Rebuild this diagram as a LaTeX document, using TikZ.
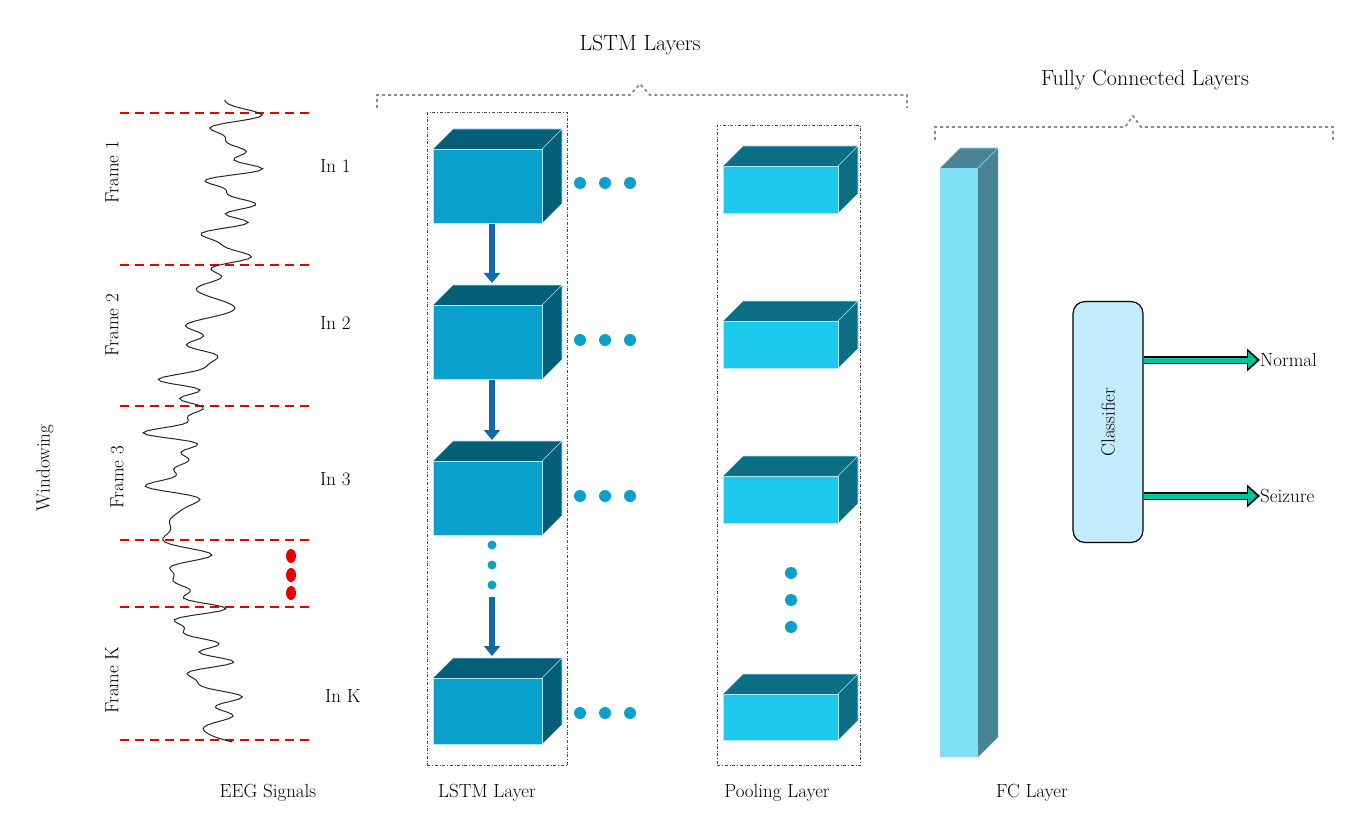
\documentclass[tikz,border=0pt]{standalone}
\usetikzlibrary{arrows.meta}
\definecolor{lblue}{HTML}{1BB5EC}
\definecolor{dblue}{HTML}{0E6BA8}
\definecolor{cubef}{HTML}{0AA0CC}
\definecolor{cubed}{HTML}{035E78}
\definecolor{poolf}{HTML}{1CC8EC}
\definecolor{poold}{HTML}{0B6E85}
\definecolor{fcf}{HTML}{7FDFF5}
\definecolor{fcd}{HTML}{4A8494}
\definecolor{clsf}{HTML}{C2EBFB}
\definecolor{grn}{HTML}{00C49A}
\tikzset{
  x=1pt,y=-1pt,
  lbl/.style={font=\fontsize{19}{22}\selectfont,inner sep=0},
  big/.style={font=\fontsize{22}{26}\selectfont,inner sep=0},
  barr/.style={draw=none,line width=7pt,lblue,-{Triangle[length=12pt,width=18pt]}},
  darr/.style={line width=6pt,dblue,-{Triangle[length=10pt,width=16pt]}},
  garr/.style={line width=8pt,black,-{Triangle[length=13pt,width=22pt]},postaction={draw,line width=5pt,grn,shorten >=3pt,-{Triangle[length=9pt,width=16pt]}}},
  red/.style={red!90!black,dashed,line width=2pt,dash pattern=on 9pt off 6pt},
  dbox/.style={draw=black!70,dash dot,line width=0.9pt},
  brace/.style={draw=black!45,dashed,line width=1.8pt},
  dot/.style={circle,fill=#1,inner sep=0,minimum width=9pt,minimum height=12pt}
}
\newcommand\mycube[8]{% name,x,y,w,h,d,front,dark
  \fill[#8] (#2,#3) -- ++(#6,-#6) -- ++(#4,0) -- ++(0,#5) -- ++(-#6,#6) -- cycle;
  \draw[white!70!cyan,line width=0.6pt] (#2,#3) -- ++(#6,-#6) -- ++(#4,0) -- ++(0,#5) (#2+#4,#3)--++(#6,-#6);
  \node[fill=#7,draw=white!70!cyan,line width=0.6pt,minimum width=#4pt,minimum height=#5pt,anchor=north west,inner sep=0] (#1) at (#2,#3) {};
}
\begin{document}
\begin{tikzpicture}
\useasboundingbox (0,0) rectangle (1370,834);
% red frames
\foreach \y in {113,265,406,540,607,740} \draw[red] (120,\y) -- (315,\y);
\foreach \y in {556,575,593} \fill[red!90!black] (291,\y) ellipse (5pt and 7pt);
\node[lbl,rotate=90] (f1) at (112,172) {Frame 1};
\node[lbl,rotate=90] (f2) at (112,325) {Frame 2};
\node[lbl,rotate=90] (f3) at (117,477) {Frame 3};
\node[lbl,rotate=90] (fk) at (112,680) {Frame K};
\node[lbl,rotate=90] (win) at (45,468) {Windowing};
% EEG
\draw[black!85,line width=1pt] plot[domain=100:742,samples=300]
 ({205+30*sin(\x*0.55)+16*sin(\x*7.3)+11*sin(\x*13.1+20)+7*sin(\x*19.7)+4*sin(\x*21.3+50)},\x);
% inputs
\foreach \y/\t in {183/1,340/2,496/3} {
  \node[lbl,anchor=south west] (in\t) at (320,\y-10) {In \t};
}
\node[lbl,anchor=south west] (inK) at (325,703) {In K};
% LSTM box
\node[dbox,minimum width=140pt,minimum height=653pt,anchor=north west] (lbox) at (427,112) {};
\mycube{c1}{433}{149}{109}{74}{20}{cubef}{cubed}
\mycube{c2}{433}{305}{109}{74}{20}{cubef}{cubed}
\mycube{c3}{433}{461}{109}{74}{20}{cubef}{cubed}
\mycube{ck}{433}{678}{109}{66}{20}{cubef}{cubed}
\draw[barr] (318,183) -- (c1.west|-0,183);
\draw[barr] (318,340) -- (c2.west|-0,340);
\draw[barr] (318,496) -- (c3.west|-0,496);
\draw[barr] (318,713) -- (ck.west|-0,713);
\draw[darr] (492,224) -- (492,283);
\draw[darr] (492,380) -- (492,440);
\draw[darr] (492,597) -- (492,656);
\foreach \y in {545,565,585} \node[dot=cubef,minimum width=6pt,minimum height=9pt] at (492,\y) {};
% pooling
\node[dbox,minimum width=143pt,minimum height=640pt,anchor=north west] (pbox) at (717,125) {};
\mycube{p1}{723}{166}{115}{47}{20}{poolf}{poold}
\mycube{p2}{723}{321}{115}{47}{20}{poolf}{poold}
\mycube{p3}{723}{476}{115}{47}{20}{poolf}{poold}
\mycube{pk}{723}{694}{115}{46}{20}{poolf}{poold}
\foreach \y in {573,600,627} \node[dot=cubef] at (791,\y) {};
\foreach \y in {183,340,496,713} {
  \foreach \x in {580,605,630} \node[dot=cubef] at (\x,\y) {};
  \draw[barr,cubef] (645,\y) -- (714,\y);
  \draw[barr,cubef] (865,\y) -- (937,\y);
}
% FC
\fill[fcd] (940,168) -- ++(20,-20) -- ++(38,0) -- ++(0,589) -- ++(-20,20) -- cycle;
\node[fill=fcf,minimum width=38pt,minimum height=589pt,anchor=north west,inner sep=0] (fc) at (940,168) {};
\draw[white!60!cyan,line width=0.6pt] (940,168) -- ++(20,-20) -- ++(38,0) (978,168) -- ++(20,-20);
% classifier
\node[draw=black,line width=1.2pt,fill=clsf,rounded corners=12pt,minimum width=70pt,minimum height=241pt] (cls) at (1108,422) {};
\node[lbl,rotate=90] at (cls) {Classifier};
\draw[barr,cubef] (998,340) -- (cls.west|-0,340);
\draw[barr,cubef] (998,494) -- (cls.west|-0,494);
\node[lbl,anchor=west] (nor) at (1260,360) {Normal};
\node[lbl,anchor=west] (sei) at (1260,496) {Seizure};
\draw[garr] (cls.east|-0,360) -- (nor.west);
\draw[garr] (cls.east|-0,496) -- (sei.west);
% braces
\draw[brace] (377,108) -- (377,95) -- (630,95) -- (640,84) -- (650,95) -- (907,95) -- (907,108);
\node[big] (lstml) at (640,45) {LSTM Layers};
\draw[brace] (935,140) -- (935,127) -- (1125,127) -- (1133,116) -- (1141,127) -- (1333,127) -- (1333,140);
\node[big] (fcl) at (1145,80) {Fully Connected Layers};
% bottom labels
\node[lbl] at (268,793) {EEG Signals};
\node[lbl] at (487,793) {LSTM Layer};
\node[lbl] at (777,793) {Pooling Layer};
\node[lbl] at (1032,793) {FC Layer};
\end{tikzpicture}
\end{document}
